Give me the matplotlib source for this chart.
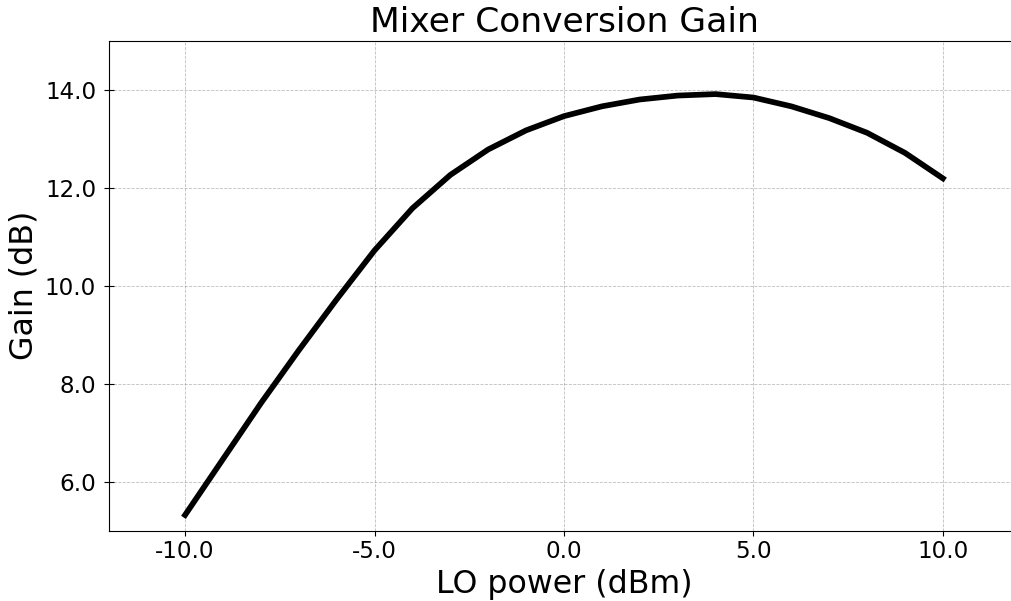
import matplotlib
matplotlib.use("Agg")
import matplotlib.pyplot as plt
from matplotlib.ticker import FormatStrFormatter

# LO drive sweep and measured conversion gain
lo_power_dbm = [-10, -9, -8, -7, -6, -5, -4, -3, -2, -1, 0,
                1, 2, 3, 4, 5, 6, 7, 8, 9, 10]
gain_db = [5.32, 6.46, 7.60, 8.68, 9.72, 10.72, 11.58, 12.26, 12.78, 13.17, 13.46,
           13.66, 13.80, 13.88, 13.91, 13.84, 13.66, 13.42, 13.12, 12.71, 12.19]

x_ticks = [-10.0, -5.0, 0.0, 5.0, 10.0]
y_ticks = [6.0, 8.0, 10.0, 12.0, 14.0]

fig = plt.figure(figsize=(10.11, 6.01), dpi=100)
ax = fig.add_axes([0.1081, 0.117, 0.8995, 0.8153])

ax.plot(lo_power_dbm, gain_db, color="black", linewidth=4.1)

ax.set_xlim(-12, 12)
ax.set_ylim(5, 15)
ax.set_xticks(x_ticks)
ax.set_yticks(y_ticks)
ax.xaxis.set_major_formatter(FormatStrFormatter("%.1f"))
ax.yaxis.set_major_formatter(FormatStrFormatter("%.1f"))
ax.tick_params(axis="both", labelsize=16.6)
ax.tick_params(axis="y", direction="inout", length=7, pad=6)

ax.grid(True, linestyle="--", linewidth=0.6, color="gray", alpha=0.5)

ax.set_title("Mixer Conversion Gain", fontsize=24.8)
ax.set_xlabel("LO power (dBm)", fontsize=22.8)
ax.set_ylabel("Gain (dB)", fontsize=22.8)

fig.savefig("out.png", dpi=100)
